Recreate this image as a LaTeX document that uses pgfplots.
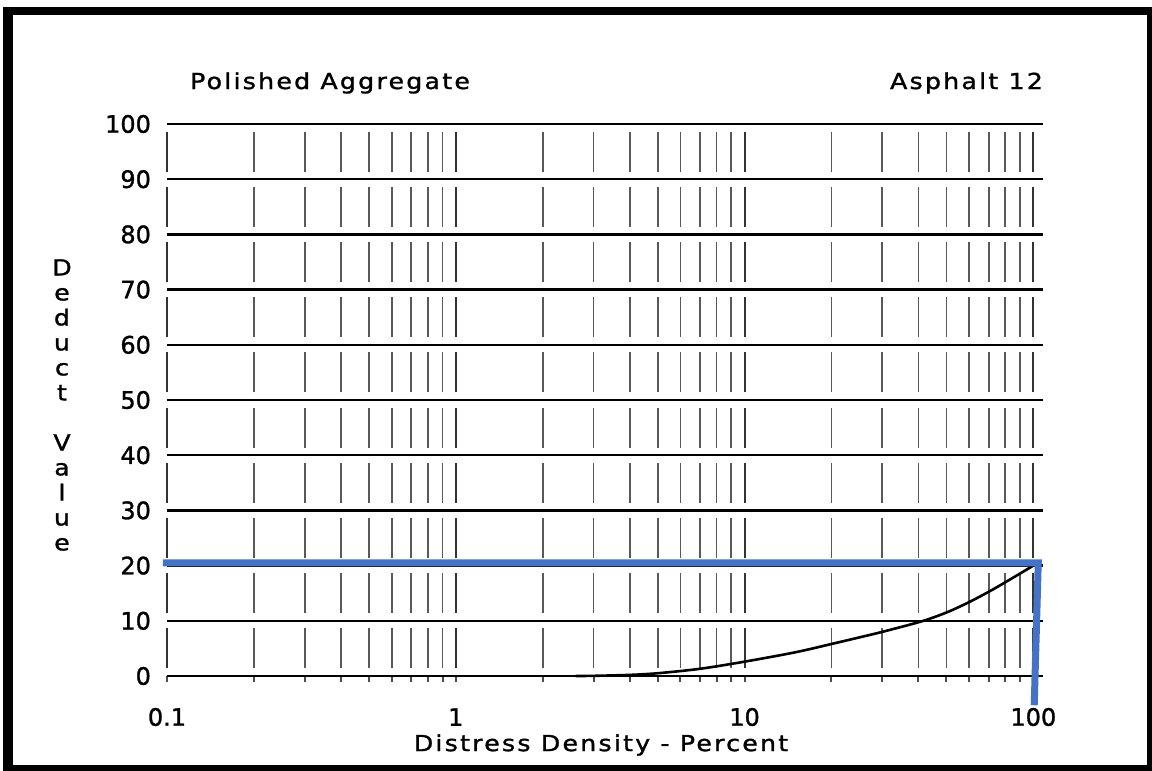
\documentclass[border=0pt]{standalone}
\usepackage{fontspec}
\usepackage{pgfplots}
\pgfplotsset{compat=1.18}
\setmainfont{DejaVu Sans}
\newfontfamily\lab{DejaVu Sans}[FakeStretch=1.15,LetterSpace=10,FakeBold=1.3]
\newfontfamily\num{DejaVu Sans}[FakeBold=1.3]
\definecolor{markblue}{RGB}{68,114,196}

\begin{document}
\begin{tikzpicture}
\useasboundingbox (0,0) rectangle (576pt,-385.5pt);
% frame
\fill[black] (1.5pt,-3.5pt) rectangle (576pt,-385.5pt);
\fill[white] (6.5pt,-7.5pt) rectangle (573.5pt,-382.5pt);

\begin{axis}[
  scale only axis,
  width=438pt, height=276pt,
  at={(83.5pt,-338pt)}, anchor=south west,
  xmode=log, log basis x=10,
  xmin=0.1, xmax=108, ymin=0, ymax=100,
  xtick={0.1,1,10,100}, xticklabels={0.1,1,10,100},
  minor xtick={0.2,0.3,0.4,0.5,0.6,0.7,0.8,0.9,2,3,4,5,6,7,8,9,20,30,40,50,60,70,80,90},
  ytick={0,10,...,100},
  separate axis lines,
  every outer x axis line/.append style={black, line width=1.2pt},
  every outer y axis line/.append style={draw=none},
  xmajorgrids, xminorgrids, ymajorgrids,
  major x grid style={black!80, line width=1pt, dash pattern=on 20pt off 7.6pt, dash phase=23.8pt},
  minor x grid style={black!65, line width=0.9pt, dash pattern=on 20pt off 7.6pt, dash phase=23.8pt},
  major y grid style={black, line width=1.2pt},
  xtick pos=bottom,
  tick align=outside,
  major tick length=3pt, minor tick length=3pt,
  x tick style={draw=black!70, solid, line width=1pt},
  y tick style={draw=none},
  /pgf/number format/assume math mode=true,
  tick label style={font=\num\fontsize{12}{14}\selectfont},
  xticklabel style={anchor=center, yshift=-17.5pt},
  yticklabel style={xshift=-1.5pt},
  clip=false,
]
% deduct curve
\addplot[black, line width=1.3pt, smooth] coordinates {
  (2.6,0) (3,0.03) (4,0.2) (5,0.5) (7,1.3) (10,2.6) (15,4.3) (20,5.8)
  (25,7.0) (30,8.0) (41,9.9) (50,11.5) (60,13.4) (72,15.6) (85,17.8) (100,20)
};
% reading line
\addplot[markblue, line width=3.5pt, line join=miter] coordinates {
  (0.0968,20.5) (104,20.5) (100.7,-5.3)
};
\end{axis}

\node[font=\lab\fontsize{11}{13}\selectfont, anchor=base west] at (91.5pt,-44.5pt) {Polished Aggregate};
\node[font=\lab\fontsize{11}{13}\selectfont, anchor=base east] at (525pt,-44.5pt) {Asphalt 12};
\node[font=\lab\fontsize{11}{13}\selectfont] at (300.5pt,-372.5pt) {Distress Density - Percent};
\node[font=\lab\fontsize{11}{12.5}\selectfont, align=center, inner sep=0pt] at (31pt,-202.5pt)
  {D\\e\\d\\u\\c\\t\\[12.5pt]V\\a\\l\\u\\e};
\end{tikzpicture}
\end{document}
